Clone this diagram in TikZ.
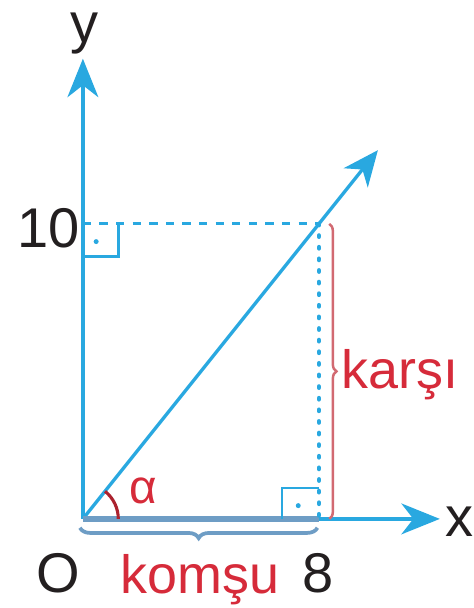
\documentclass[tikz,border=0pt]{standalone}
\usepackage{fontspec}
\setmainfont{Liberation Sans}
\usepackage{tikz}
\usetikzlibrary{positioning,arrows.meta,decorations.pathreplacing}
\definecolor{axisblue} {HTML}{29A8E0}
\definecolor{legblue}  {HTML}{6E9DC5}
\definecolor{labred}   {HTML}{D62B3A}
\definecolor{bracered} {HTML}{D26A72}
\definecolor{ink}      {HTML}{231F20}
\tikzset{
  axisline/.style = {draw=axisblue, line width=2.2pt,
                     -{Stealth[length=6.5mm, width=5.2mm, inset=2mm]}},
  rayline/.style  = {draw=axisblue, line width=1.6pt,
                     -{Stealth[length=6mm, width=5.2mm, inset=1.8mm]}},
  guide/.style    = {draw=axisblue, line width=1.4pt, dash pattern=on 4pt off 4pt},
  dotline/.style  = {draw=axisblue, line width=2.2pt, line cap=round,
                     dash pattern=on 0.6pt off 5pt},
  rmark/.style    = {draw=axisblue, line width=1.3pt},
  rdot/.style     = {fill=axisblue, circle, inner sep=0pt, minimum size=2.4pt},
  num/.style      = {font=\fontsize{27}{30}\selectfont, text=ink, inner sep=0pt},
  word/.style     = {font=\fontsize{26}{29}\selectfont, text=labred, inner sep=0pt},
  bracel/.style   = {decorate, decoration={brace, amplitude=#1}},
}
\begin{document}
\begin{tikzpicture}[x=0.5cm, y=0.5cm]
  \useasboundingbox (-2.81,-3.02) rectangle (13.25,17.59);

  \coordinate (O) at (0,0);
  \coordinate (P) at (8,10);
  \coordinate (Ya) at (0,10);
  \coordinate (Xa) at (8,0);
  \coordinate (ytip) at (0,15.6);
  \coordinate (xtip) at (12.1,0);
  \coordinate (rtip) at (10,12.5);

  % axes and ray
  \draw[axisline] (O) -- (ytip);
  \draw[axisline] (O) -- (xtip);
  \draw[rayline] (O) -- (rtip);
  \draw[draw=legblue, line width=3pt] (O) -- (Xa);

  % guides to the point
  \draw[guide] (Ya) -- (P);
  \draw[dotline] (P) -- (Xa);

  % right angle marks
  \draw[rmark] (0,8.9) -- (1.2,8.9) -- (1.2,10);
  \node[rdot] (d1) at (0.45,9.4) {};
  \draw[rmark] (6.75,0) -- (6.75,1.05) -- (8,1.05);
  \node[rdot] (d2) at (7.3,0.45) {};

  % angle
  \draw[draw=labred!80!black, line width=1.5pt] (1.2,0) arc[start angle=0, end angle=51.3, radius=1.2];
  \node[word, font=\fontsize{23}{26}\selectfont] (alpha) at (2.05,0.95) {α};

  % braces
  \draw[bracered, line width=1.2pt, bracel=3.5pt] (8.35,10) -- (8.35,0)
    node[midway] (kb) {};
  \node[word, anchor=west] (karsi) at (8.75,4.9) {karşı};
  \draw[legblue, line width=1.8pt, bracel=5pt] (7.95,-0.3) -- (-0.1,-0.3)
    node[midway] (mb) {};
  \node[word] (komsu) at (3.97,-2.05) {komşu};

  % axis labels
  \node[num] (lblO) at (-0.85,-1.85) {O};
  \node[num] (lbl8) at (7.97,-1.85) {8};
  \node[num] (lbl10) at (-1.15,9.85) {10};
  \node[num] (lbly) at (0.05,16.45) {y};
  \node[num] (lblx) at (12.75,-0.1) {x};
\end{tikzpicture}
\end{document}
